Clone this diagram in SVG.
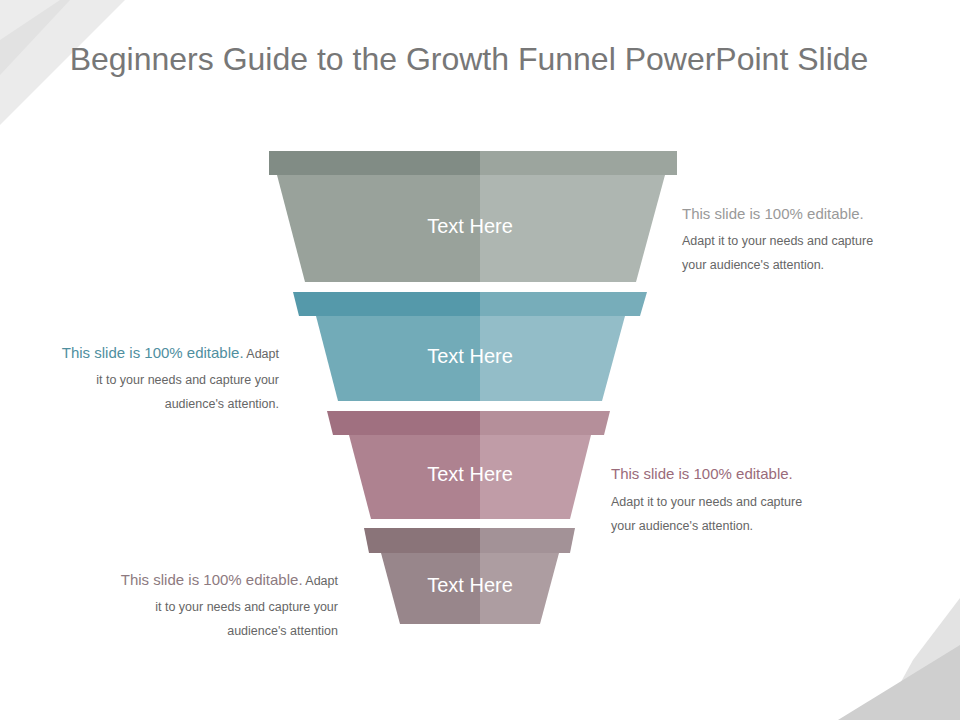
<svg xmlns="http://www.w3.org/2000/svg" width="960" height="720" viewBox="0 0 960 720">
<style>
.t{font-family:"Liberation Sans",Arial,sans-serif}
.lbl{font-size:20px;fill:#fff;text-anchor:middle}
.h{font-size:15px}
.s{font-size:12.5px;fill:#666}
</style>
<rect width="960" height="720" fill="#fff"/>
<g id="bg">
<polygon points="0,0 125,0 0,125" fill="#ebebeb"/>
<polygon points="0,0 70,0 0,75" fill="#e2e2e2"/>
<polygon points="0,0 60,0 0,40" fill="#f3f3f3" opacity="0.6"/>
<polygon points="960,598 960,720 880,720 913,660" fill="#e3e3e3"/>
<polygon points="960,645 960,720 838,720" fill="#cfcfcf"/>
</g>
<text class="t" x="469" y="70" font-size="32" fill="#777" text-anchor="middle">Beginners Guide to the Growth Funnel PowerPoint Slide</text>
<g id="stage1">
<polygon points="269,151 480,151 480,175 269,175" fill="#818c85"/>
<polygon points="480,151 677,151 677,175 480,175" fill="#9ca59e"/>
<polygon points="277,175 480,175 480,282 305,282" fill="#99a29b"/>
<polygon points="480,175 665,175 636,282 480,282" fill="#aeb6b1"/>
<text class="t lbl" x="470" y="233">Text Here</text>
</g>
<g id="stage2">
<polygon points="293,292 480,292 480,316 299,316" fill="#5599aa"/>
<polygon points="480,292 647,292 640,316 480,316" fill="#77adba"/>
<polygon points="316,316 480,316 480,401 338,401" fill="#72abb8"/>
<polygon points="480,316 625,316 602,401 480,401" fill="#93bdc8"/>
<text class="t lbl" x="470" y="363">Text Here</text>
</g>
<g id="stage3">
<polygon points="327,411 480,411 480,435 333,435" fill="#a07080"/>
<polygon points="480,411 610,411 604,435 480,435" fill="#b58f9a"/>
<polygon points="349,435 480,435 480,519 371,519" fill="#ae8290"/>
<polygon points="480,435 591,435 570,519 480,519" fill="#c09ca7"/>
<text class="t lbl" x="470" y="481">Text Here</text>
</g>
<g id="stage4">
<polygon points="364,528 480,528 480,553 369,553" fill="#8a7479"/>
<polygon points="480,528 575,528 570,553 480,553" fill="#a39297"/>
<polygon points="381,553 480,553 480,624 400,624" fill="#98868b"/>
<polygon points="480,553 559,553 540,624 480,624" fill="#ad9da1"/>
<text class="t lbl" x="470" y="592">Text Here</text>
</g>
<g id="note1" class="t">
<text x="682" y="219" class="h" fill="#999">This slide is 100% editable.</text>
<text x="682" y="245" class="s">Adapt it to your needs and capture</text>
<text x="682" y="269" class="s">your audience's attention.</text>
</g>
<g id="note2" class="t" text-anchor="end">
<text x="279" y="358"><tspan class="h" fill="#4f8f9f">This slide is 100% editable.</tspan><tspan class="s"> Adapt</tspan></text>
<text x="279" y="384" class="s">it to your needs and capture your</text>
<text x="279" y="408" class="s">audience's attention.</text>
</g>
<g id="note3" class="t">
<text x="611" y="479" class="h" fill="#9a6b7a">This slide is 100% editable.</text>
<text x="611" y="506" class="s">Adapt it to your needs and capture</text>
<text x="611" y="530" class="s">your audience's attention.</text>
</g>
<g id="note4" class="t" text-anchor="end">
<text x="338" y="585"><tspan class="h" fill="#8d7a80">This slide is 100% editable.</tspan><tspan class="s"> Adapt</tspan></text>
<text x="338" y="611" class="s">it to your needs and capture your</text>
<text x="338" y="635" class="s">audience's attention</text>
</g>
<g id="connectors"/>
</svg>
